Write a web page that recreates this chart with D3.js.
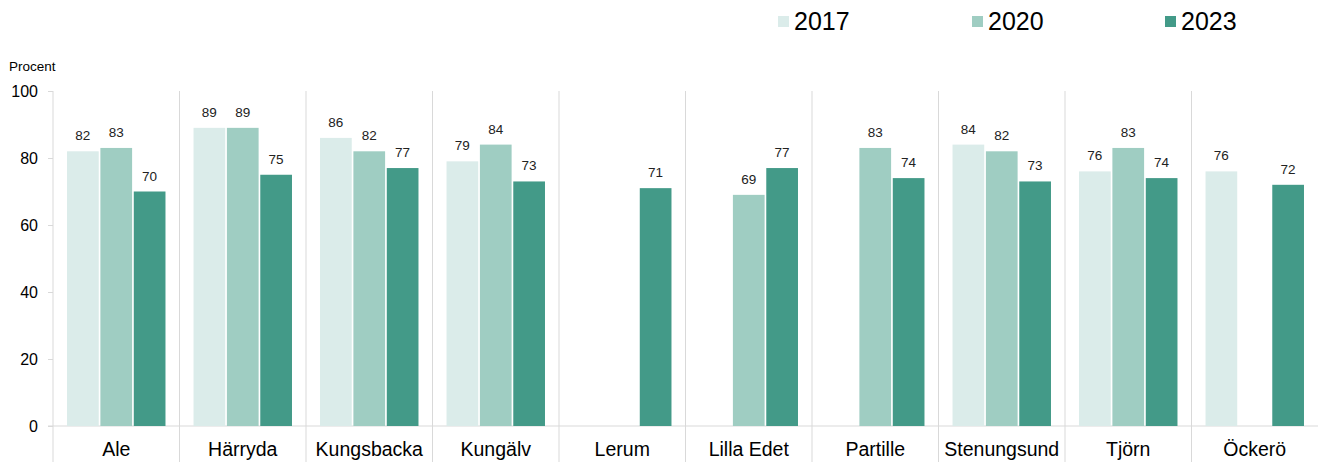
<!DOCTYPE html>
<html><head><meta charset="utf-8">
<script src="https://cdn.jsdelivr.net/npm/d3@7"></script>
<style>body{margin:0;background:#fff}svg{display:block;font-family:"Liberation Sans",Arial,sans-serif}</style>
</head><body><svg id="c" width="1320" height="462"></svg>
<script>
const categories = ["Ale","Härryda","Kungsbacka","Kungälv","Lerum","Lilla Edet","Partille","Stenungsund","Tjörn","Öckerö"];
const seriesNames = ["2017","2020","2023"];
const v2017 = [82,89,86,79,null,null,null,84,76,76];
const v2020 = [83,89,82,84,null,69,83,82,83,null];
const v2023 = [70,75,77,73,71,77,74,73,74,72];
const yTicks = [0,20,40,60,80,100];
const colors = ["#dbecea","#9fcdc2","#439a88"];
const series = [v2017,v2020,v2023];

(function(){
const svg = d3.select("#c");
const pl = 53, pr = 1318, pt = 91, pb = 426;
const x = d3.scaleBand().domain(categories).range([pl,pr]).paddingInner(0).paddingOuter(0);
const xs = d3.scaleBand().domain(seriesNames).range([0,x.bandwidth()]).paddingInner(0.05).paddingOuter(0.42);
const y = d3.scaleLinear().domain([0,100]).range([pb,pt]);

const grid = "#d9d9d9";
categories.forEach((c,i)=>{
  if(i>0) svg.append("line").attr("x1",x(c)).attr("x2",x(c)).attr("y1",pt).attr("y2",462).attr("stroke",grid);
});
const ya = svg.append("g").attr("transform",`translate(${pl},0)`).call(d3.axisLeft(y).tickValues(yTicks).tickSize(5).tickPadding(10));
ya.select(".domain").attr("stroke",grid).attr("d",`M0,${pt}V462`);
ya.selectAll(".tick line").attr("stroke",grid);
ya.selectAll(".tick text").attr("font-size",16).attr("fill","#000").attr("font-family","Liberation Sans, Arial, sans-serif");
svg.append("line").attr("x1",pl-5).attr("x2",pr).attr("y1",pb).attr("y2",pb).attr("stroke",grid);
const xa = svg.append("g").attr("transform",`translate(0,${pb})`).call(d3.axisBottom(x).tickSize(0).tickPadding(16));
xa.select(".domain").remove();
xa.selectAll(".tick text").attr("font-size",19.5).attr("fill","#000").attr("font-family","Liberation Sans, Arial, sans-serif");

series.forEach((vals,si)=>{
  const g = svg.append("g");
  const data = categories.map((c,i)=>({c,v:vals[i]})).filter(d=>d.v!=null);
  g.selectAll("rect").data(data).join("rect")
    .attr("x",d=>x(d.c)+xs(seriesNames[si]))
    .attr("width",xs.bandwidth())
    .attr("y",d=>y(d.v))
    .attr("height",d=>y(0)-y(d.v))
    .attr("fill",colors[si]);
  g.selectAll("text").data(data).join("text")
    .attr("x",d=>x(d.c)+xs(seriesNames[si])+xs.bandwidth()/2)
    .attr("y",d=>y(d.v)-11)
    .attr("text-anchor","middle").attr("font-size",13.5).attr("fill","#222")
    .text(d=>d.v);
});

svg.append("text").attr("x",9).attr("y",71).attr("font-size",13.5).attr("fill","#000").text("Procent");

const lx = [778,972,1165];
seriesNames.forEach((s,i)=>{
  svg.append("rect").attr("x",lx[i]).attr("y",16).attr("width",11).attr("height",11).attr("fill",colors[i]);
  svg.append("text").attr("x",lx[i]+16).attr("y",30).attr("font-size",25).attr("fill","#000").text(s);
});
})();
</script></body></html>
